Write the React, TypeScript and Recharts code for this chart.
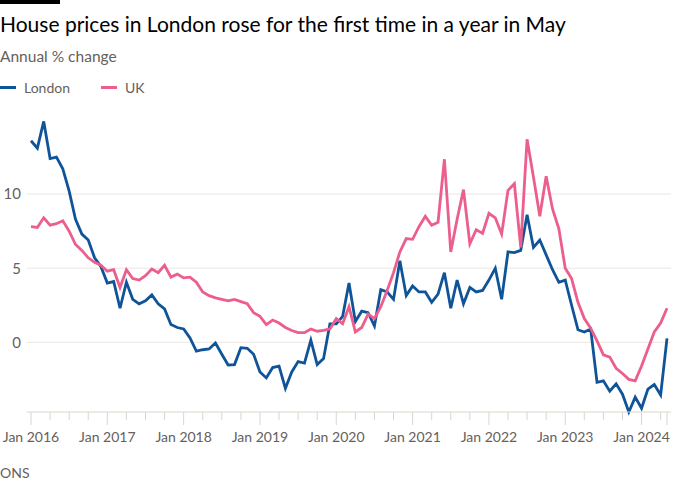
import React from 'react';
import { LineChart, Line, XAxis, YAxis, CartesianGrid } from 'recharts';

// monthly, Jan 2016 .. May 2024
const london = [
  13.6, 13.1, 14.9, 12.4, 12.5, 11.7, 10.2, 8.3, 7.3, 6.9,
  5.7, 5.1, 4.0, 4.1, 2.3, 4.05, 2.9, 2.6, 2.8, 3.2,
  2.6, 2.25, 1.2, 1.0, 0.9, 0.3, -0.6, -0.5, -0.45, -0.05,
  -0.8, -1.53, -1.5, -0.36, -0.4, -0.8, -2.0, -2.4, -1.7, -1.6,
  -3.1, -2.0, -1.3, -1.4, 0.15, -1.5, -1.1, 1.25, 1.25, 1.75,
  4.0, 1.4, 2.1, 2.0, 1.1, 3.55, 3.4, 2.9, 5.5, 3.15,
  3.8, 3.4, 3.4, 2.7, 3.25, 4.7, 2.3, 4.2, 2.6, 3.7,
  3.4, 3.5, 4.2, 5.0, 2.9, 6.1, 6.05, 6.2, 8.6, 6.4,
  6.9, 5.9, 4.9, 4.05, 4.2, 2.5, 0.85, 0.7, 0.9, -2.7,
  -2.6, -3.3, -2.8, -3.5, -4.7, -3.7, -4.45, -3.15, -2.85, -3.55,
  0.27,
];

const uk = [
  7.8, 7.75, 8.4, 7.9, 8.0, 8.2, 7.5, 6.6, 6.2, 5.7,
  5.4, 5.2, 4.8, 4.9, 3.7, 4.9, 4.3, 4.2, 4.5, 4.95,
  4.7, 5.2, 4.4, 4.6, 4.35, 4.4, 4.05, 3.4, 3.15, 3.0,
  2.9, 2.8, 2.9, 2.75, 2.6, 2.0, 1.75, 1.2, 1.5, 1.3,
  1.0, 0.8, 0.65, 0.65, 0.9, 0.75, 0.8, 0.9, 1.6, 1.25,
  2.4, 0.7, 1.0, 1.9, 1.6, 2.4, 3.5, 4.7, 6.1, 7.0,
  6.95, 7.8, 8.5, 7.9, 8.1, 12.35, 6.1, 8.3, 10.3, 6.65,
  7.6, 7.35, 8.7, 8.4, 7.3, 10.25, 10.7, 6.4, 13.7, 11.15,
  8.5, 11.2, 9.0, 7.65, 5.0, 4.3, 2.7, 1.6, 0.95, 0.1,
  -0.85, -1.0, -1.75, -2.1, -2.5, -2.6, -1.6, -0.45, 0.7, 1.3,
  2.3,
];

const yearLabels = [
  'Jan 2016', 'Jan 2017', 'Jan 2018', 'Jan 2019', 'Jan 2020',
  'Jan 2021', 'Jan 2022', 'Jan 2023', 'Jan 2024',
];

const yTicks = [0, 5, 10];

const data = london.map((v, i) => ({ month: i, london: v, uk: uk[i] }));

// quarterly ticks plus the last month
const xTicks: number[] = [];
for (let m = 0; m < london.length; m += 3) xTicks.push(m);
xTicks.push(london.length - 1);

const grey = '#66605c';
const font = 'Lato, sans-serif';

const XTick = (props: any) => {
  const { x, y, payload } = props;
  const v = payload.value as number;
  const major = v % 12 === 0 || v === london.length - 1;
  return (
    <g>
      <line x1={x} x2={x} y1={y} y2={y + (major ? 13 : 8)} stroke="#dcd5ce" />
      {v % 12 === 0 && (
        <text x={x} y={y + 30} textAnchor="middle" fill={grey} fontSize={14} fontFamily={font}>
          {yearLabels[v / 12]}
        </text>
      )}
    </g>
  );
};

export default function App() {
  return (
    <div style={{ position: 'absolute', left: 0, top: 0, width: 700, height: 500, background: '#fff', fontFamily: font }}>
      <div style={{ position: 'absolute', left: 0, top: 0, width: 60, height: 4, background: '#000' }} />
      <div style={{ position: 'absolute', left: 0, top: 11, fontSize: 21, color: '#000', whiteSpace: 'nowrap' }}>
        House prices in London rose for the first time in a year in May
      </div>
      <div style={{ position: 'absolute', left: 0, top: 47, fontSize: 15.5, color: grey }}>Annual % change</div>
      <div style={{ position: 'absolute', left: 0, top: 79, fontSize: 14, color: grey, display: 'flex', alignItems: 'center' }}>
        <span style={{ display: 'inline-block', width: 16, height: 3, background: '#0f5499', marginRight: 8 }} />
        <span style={{ marginRight: 31 }}>London</span>
        <span style={{ display: 'inline-block', width: 16, height: 3, background: '#eb5e8d', marginRight: 8 }} />
        <span>UK</span>
      </div>
      <div style={{ position: 'absolute', left: 0, top: 464, fontSize: 14, color: grey }}>ONS</div>
      <div style={{ position: 'absolute', left: 0, top: 0 }}>
        <LineChart width={700} height={500} data={data} margin={{ top: 117, right: 29, bottom: 58, left: 0 }}>
          <CartesianGrid vertical={false} stroke="#ece6e0" horizontalValues={yTicks} />
          <XAxis
            dataKey="month"
            type="number"
            domain={[0, 100]}
            ticks={xTicks}
            interval={0}
            padding={{ left: 4, right: 4 }}
            height={30}
            tickSize={0}
            tickMargin={0}
            tickLine={false}
            axisLine={{ stroke: '#dcd5ce' }}
            tick={<XTick />}
          />
          <YAxis
            domain={[-4.7, 15.2]}
            ticks={yTicks}
            width={27}
            axisLine={false}
            tickLine={false}
            tickSize={6}
            tickMargin={0}
            tick={{ fill: grey, fontSize: 15, fontFamily: font }}
          />
          <Line dataKey="london" stroke="#0f5499" strokeWidth={2.8} dot={false} isAnimationActive={false} type="linear" />
          <Line dataKey="uk" stroke="#eb5e8d" strokeWidth={2.8} dot={false} isAnimationActive={false} type="linear" />
        </LineChart>
      </div>
    </div>
  );
}
